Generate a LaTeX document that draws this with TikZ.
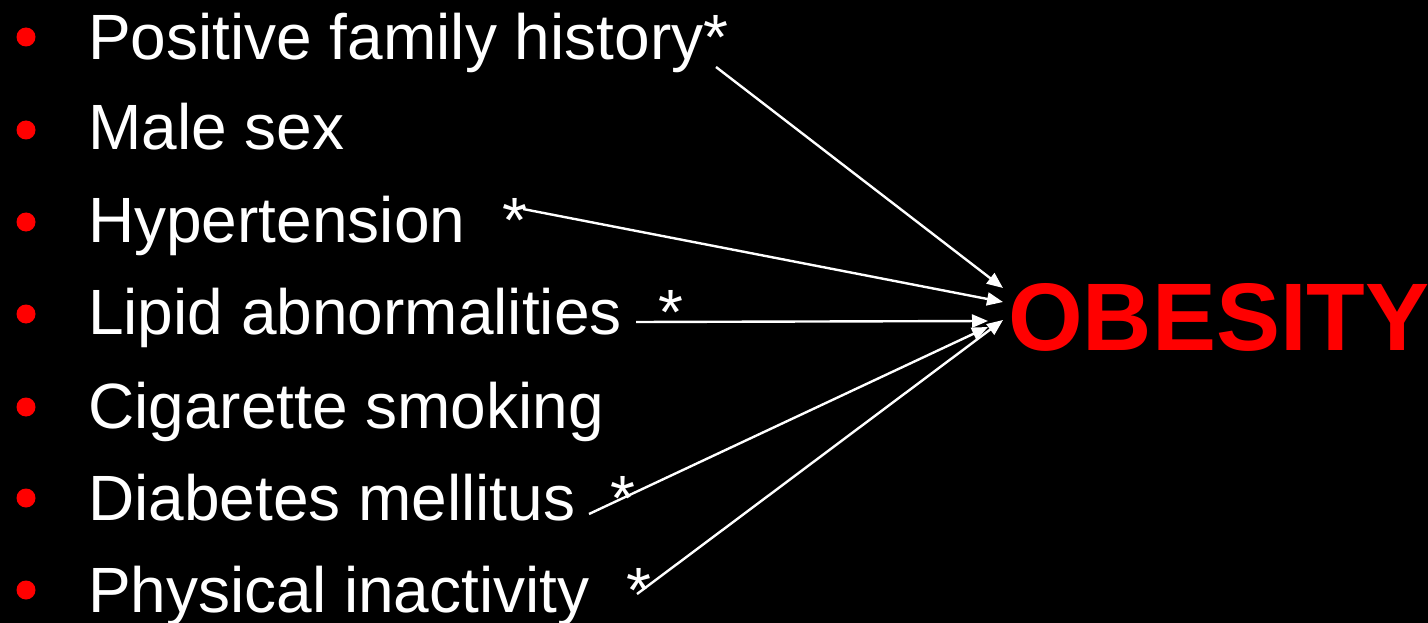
\documentclass[tikz,border=0pt]{standalone}
\usepackage{fontspec}
\setmainfont{Liberation Sans}
\usetikzlibrary{arrows.meta}
\definecolor{obred}{RGB}{255,0,0}
\begin{document}
\begin{tikzpicture}[x=1pt,y=-1pt,
  item/.style={anchor=base west,inner sep=0pt,text=white,font=\fontsize{64}{70}\selectfont},
  bullet/.style={circle,fill=obred,inner sep=0pt,minimum size=19pt},
  link/.style={white,line width=2.4pt,-{Triangle[length=16pt,width=13pt]}}]
\fill[black] (0,0) rectangle (1428,623);
\useasboundingbox (0,0) rectangle (1428,623);
\foreach \y [count=\i] in {37,130,222,314,407,498,590}
  \node[bullet] (b\i) at (26,\y) {};
\node[item] (t1) at (88,60) {Positive family history*};
\node[item] (t2) at (88,150) {Male sex};
\node[item] (t3) at (88,243) {Hypertension\hspace{37pt}*};
\node[item] (t4) at (88,334) {Lipid abnormalities\hspace{37pt}*};
\node[item] (t5) at (88,428) {Cigarette smoking};
\node[item] (t6) at (88,520) {Diabetes mellitus\hspace{35pt}*};
\node[item] (t7) at (88,612) {Physical inactivity\hspace{37pt}*};
\node[anchor=base west,inner sep=0pt,text=obred,font=\fontsize{96}{110}\selectfont\bfseries] (ob) at (1008,350) {OBESITY};
\coordinate (s1) at (716,67);
\coordinate (s3) at (523,209);
\coordinate (s4) at (636,322);
\coordinate (s6) at (589,514);
\coordinate (s7) at (637,594);
\coordinate (e1) at (1003,288);
\coordinate (e3) at (1003,302);
\coordinate (e4) at (988,321);
\coordinate (e6) at (988,327);
\coordinate (e7) at (1003,320);
\draw[link] (s1) -- (e1);
\draw[link] (s3) -- (e3);
\draw[link] (s4) -- (e4);
\draw[link] (s6) -- (e6);
\draw[link] (s7) -- (e7);
\end{tikzpicture}
\end{document}
